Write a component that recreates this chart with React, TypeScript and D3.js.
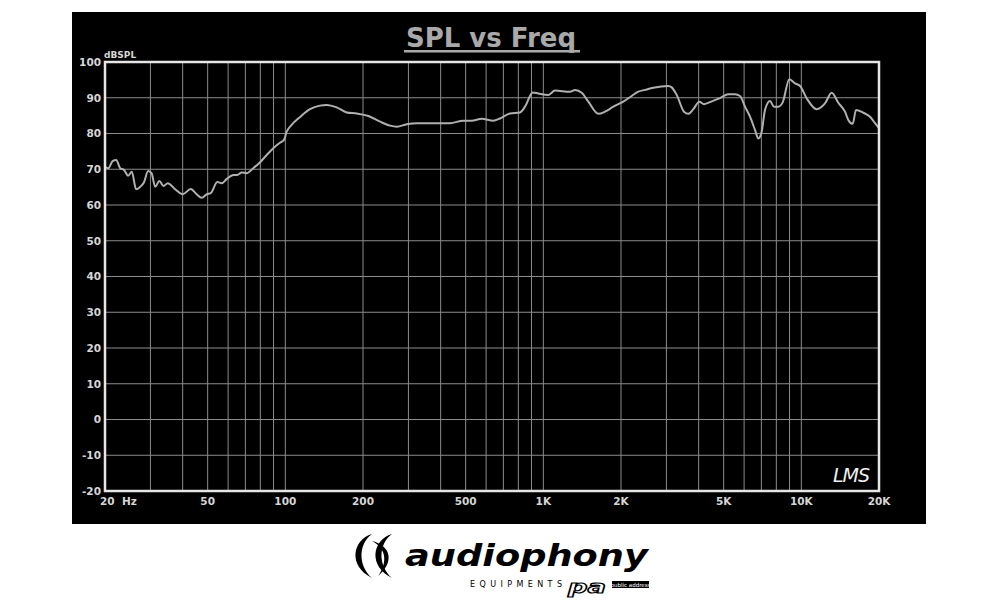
import React from 'react';
import * as d3 from 'd3';

// frequency response
const freqHz = [
  20, 20.6, 21.4, 22.1, 22.9, 23.7, 24.6, 25.4, 26.4, 27.3, 28.3, 29.4, 30.3, 31.3, 32.5, 33.7, 35, 37.4,
  40, 43, 45.3, 47.4, 49.6, 51.4, 54.5, 56.7, 59.3, 62.9, 65.1, 67.7, 70.8, 75.1, 79.7, 84.7, 89.8, 95.3,
  98.8, 101.2, 105.8, 114, 124.6, 136.2, 144.6, 158.2, 173, 189.1, 209.9, 232.9, 254.6, 270.3, 295.5,
  323.1, 363.7, 397.7, 434.9, 489.7, 527.6, 577, 639.8, 679.2, 742.7, 812, 849.1, 909.8, 956.4, 1045.8,
  1110, 1269, 1327, 1409, 1494, 1634, 1734, 1868, 2041, 2200, 2334, 2478, 2668, 3051, 3144, 3288, 3509,
  3647, 3813, 4024, 4196, 4496, 4840, 5212, 5533, 5785, 6049, 6325, 6613, 6811, 7020, 7230, 7561, 7835,
  8142, 8467, 8983, 9454, 9886, 10496, 11473, 12350, 13113, 13908, 14765, 15207, 15818, 16291, 17387,
  18459, 19300, 20000,
];
const splDb = [
  70.7, 70.3, 72.3, 72.6, 70.3, 69.8, 68.2, 69.3, 64.4, 65.0, 66.3, 69.5, 68.9, 65.1, 66.7, 65.3, 66.1, 64.4,
  63.0, 64.5, 63.0, 62.0, 63.0, 63.3, 66.4, 66.1, 67.3, 68.4, 68.4, 69.1, 68.9, 70.3, 71.9, 74.0, 75.9, 77.4,
  78.2, 80.5, 82.4, 84.6, 86.8, 87.8, 88.0, 87.3, 85.9, 85.6, 84.9, 83.3, 82.2, 81.9, 82.6,
  82.9, 82.9, 82.9, 82.9, 83.6, 83.6, 84.1, 83.6, 84.2, 85.6, 85.9, 87.5, 91.5, 91.2, 90.8,
  92.0, 91.7, 92.2, 91.4, 88.9, 85.5, 86.1, 87.5, 88.9, 90.5, 91.7, 92.2, 92.8, 93.3, 92.9, 90.8, 86.1,
  85.5, 86.8, 88.9, 88.2, 89.0, 89.9, 91.0, 91.0, 90.5, 87.5, 84.7, 81.0, 78.6, 80.5, 86.6, 89.1, 87.5,
  87.5, 88.7, 95.2, 94.0, 93.3, 89.8, 86.8, 88.4, 91.4, 88.6, 86.1, 83.8, 82.7, 86.6, 85.8,
  84.7, 82.9, 81.5,
];

const gridFreqs = [
  20, 30, 40, 50, 60, 70, 80, 90, 100, 200, 300, 400, 500, 600, 700, 800, 900,
  1000, 2000, 3000, 4000, 5000, 6000, 7000, 8000, 9000, 10000, 20000,
];
const freqTicks = [20, 50, 100, 200, 500, 1000, 2000, 5000, 10000, 20000];
const freqTickLabels = ['20  Hz', '50', '100', '200', '500', '1K', '2K', '5K', '10K', '20K'];
const dbTicks = [100, 90, 80, 70, 60, 50, 40, 30, 20, 10, 0, -10, -20];

const W = 1000;
const H = 600;
const plot = { left: 105, right: 879, top: 62, bottom: 491 };
const font = '"DejaVu Sans", Verdana, sans-serif';

export default function App() {
  const x = d3.scaleLog().domain([20, 20000]).range([plot.left, plot.right]);
  const y = d3.scaleLinear().domain([-20, 100]).range([plot.bottom, plot.top]);

  const points = freqHz.map((f, i) => [f, splDb[i]] as [number, number]);
  const line = d3.line<[number, number]>()
    .x((d) => x(d[0]))
    .y((d) => y(d[1]))
    .curve(d3.curveMonotoneX);

  return (
    <svg width={W} height={H} style={{ position: 'absolute', left: 0, top: 0, background: '#fff' }}>
      <rect x={72} y={12} width={854} height={512} fill="#000" />

      {/* title */}
      <text x={491} y={47} textAnchor="middle" fill="#a9a9a9" fontFamily={font}
        fontWeight="bold" fontSize={26}>SPL vs Freq</text>
      <rect x={404} y={50} width={176} height={2.5} fill="#a9a9a9" />

      <text x={104} y={58} fill="#d6d6d6" fontFamily={font} fontWeight="bold" fontSize={9}>dBSPL</text>

      {/* grid */}
      <g stroke="#8c8c8c" strokeWidth={1}>
        {gridFreqs.map((f) => (
          <line key={'v' + f} x1={x(f)} x2={x(f)} y1={plot.top} y2={plot.bottom} />
        ))}
        {dbTicks.map((d) => (
          <line key={'h' + d} x1={plot.left} x2={plot.right} y1={y(d)} y2={y(d)} />
        ))}
      </g>

      {/* curve */}
      <path d={line(points) ?? ''} fill="none" stroke="#b0b0b0" strokeWidth={2} strokeLinejoin="round" />

      {/* frame */}
      <rect x={plot.left} y={plot.top} width={plot.right - plot.left} height={plot.bottom - plot.top}
        fill="none" stroke="#e6e6e6" strokeWidth={2.5} />

      {/* axis labels */}
      <g fill="#d6d6d6" fontFamily={font} fontWeight="bold" fontSize={10.5}>
        {dbTicks.map((d) => (
          <text key={'yl' + d} x={101} y={y(d)} dy="0.36em" textAnchor="end">{d}</text>
        ))}
        {freqTicks.map((f, i) => (
          <text key={'xl' + f} x={i === 0 ? 100 : x(f)} y={505} textAnchor={i === 0 ? 'start' : 'middle'}
            style={{ whiteSpace: 'pre' }}>{freqTickLabels[i]}</text>
        ))}
      </g>

      <text x={851} y={482} textAnchor="middle" fill="#f0f0f0" fontFamily={font} fontStyle="italic"
        fontSize={19} letterSpacing={-1}>LMS</text>

      {/* logo */}
      <g>
        <path d="M372,534 C352,540 348,566 372,578 C358,566 358,544 372,534 Z" fill="#000" />
        <path d="M392,534 C372,540 368,566 392,578 C378,566 378,544 392,534 Z" fill="#000" />
        <path d="M372,541 C386,548 388,562 378,576 C394,563 392,546 372,541 Z" fill="#000" />
        <text x={405} y={566} fill="#000" fontFamily={font} fontWeight="bold" fontStyle="italic"
          fontSize={31} textLength={243} lengthAdjust="spacingAndGlyphs">audiophony</text>
        <text x={470} y={587} fill="#000" fontFamily={font} fontSize={8} textLength={92}
          lengthAdjust="spacing">EQUIPMENTS</text>
        <text x={568} y={593} fill="#fff" stroke="#000" strokeWidth={1.1} fontFamily={font}
          fontStyle="italic" fontWeight="bold" fontSize={17} textLength={38}
          lengthAdjust="spacingAndGlyphs">pa</text>
        <rect x={612} y={581} width={37} height={7} fill="#000" />
        <text x={630.5} y={586.8} textAnchor="middle" fill="#fff" fontFamily={font} fontSize={5.5}>public address</text>
      </g>
    </svg>
  );
}
